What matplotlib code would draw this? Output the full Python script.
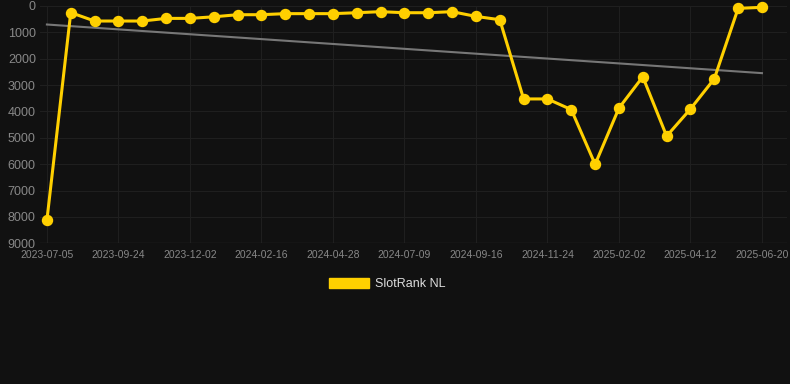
import numpy as np
import matplotlib.pyplot as plt
from matplotlib.patches import Patch

plt.rcParams['font.family'] = ['Liberation Sans', 'DejaVu Sans']

# Rank history (lower is better), one point per period
ranks = [8120, 250, 570, 570, 570, 470, 470, 410, 330, 330, 290, 290, 290, 255, 215,
         255, 255, 215, 395, 520, 3525, 3525, 3930, 6005, 3870, 2685, 4935, 3905, 2760,
         90, 50]
tick_labels = ["2023-07-05", "2023-09-24", "2023-12-02", "2024-02-16", "2024-04-28",
               "2024-07-09", "2024-09-16", "2024-11-24", "2025-02-02", "2025-04-12",
               "2025-06-20"]
y_ticks = [0, 1000, 2000, 3000, 4000, 5000, 6000, 7000, 8000, 9000]

x = np.arange(len(ranks))
bg = "#111111"
gold = "#FFD000"

fig = plt.figure(figsize=(7.9, 3.84), dpi=100, facecolor=bg)
ax = fig.add_axes([40/790, 1 - 243.3/384, (787-40)/790, (243.3-6)/384], facecolor=bg)

# trend line (linear fit)
k, b = np.polyfit(x, ranks, 1)
ax.plot([x[0], x[-1]], [k*x[0] + b, k*x[-1] + b], color="#777777", lw=1.5, zorder=2)

ax.plot(x, ranks, color=gold, lw=2.2, marker="o", ms=7.2, zorder=3, clip_on=False)

ax.set_ylim(9000, 0)
ax.set_xlim(-0.29, 31.05)
ax.set_yticks(y_ticks)
ax.set_yticklabels([str(v) for v in y_ticks])
ax.set_xticks(x[::3])
ax.set_xticklabels(tick_labels)

ax.grid(True, color="#1f1f1f", lw=0.8)
ax.set_axisbelow(True)
for s in ax.spines.values():
    s.set_visible(False)
ax.axhline(9000, color="#2a2a2a", lw=1, zorder=1)
ax.tick_params(axis="y", length=0, pad=3, labelsize=9, labelcolor="#888888")
ax.tick_params(axis="x", length=0, pad=5, labelsize=7.5, labelcolor="#888888")

handle = Patch(facecolor=gold, edgecolor=gold)
leg = fig.legend([handle], ["SlotRank NL"], loc="center", bbox_to_anchor=(0.49, 1 - 284/384),
                 frameon=False, fontsize=9, handlelength=3.2, handleheight=0.9,
                 handletextpad=0.5)
for t in leg.get_texts():
    t.set_color("#dddddd")

fig.savefig("out.png", dpi=100, facecolor=bg)
